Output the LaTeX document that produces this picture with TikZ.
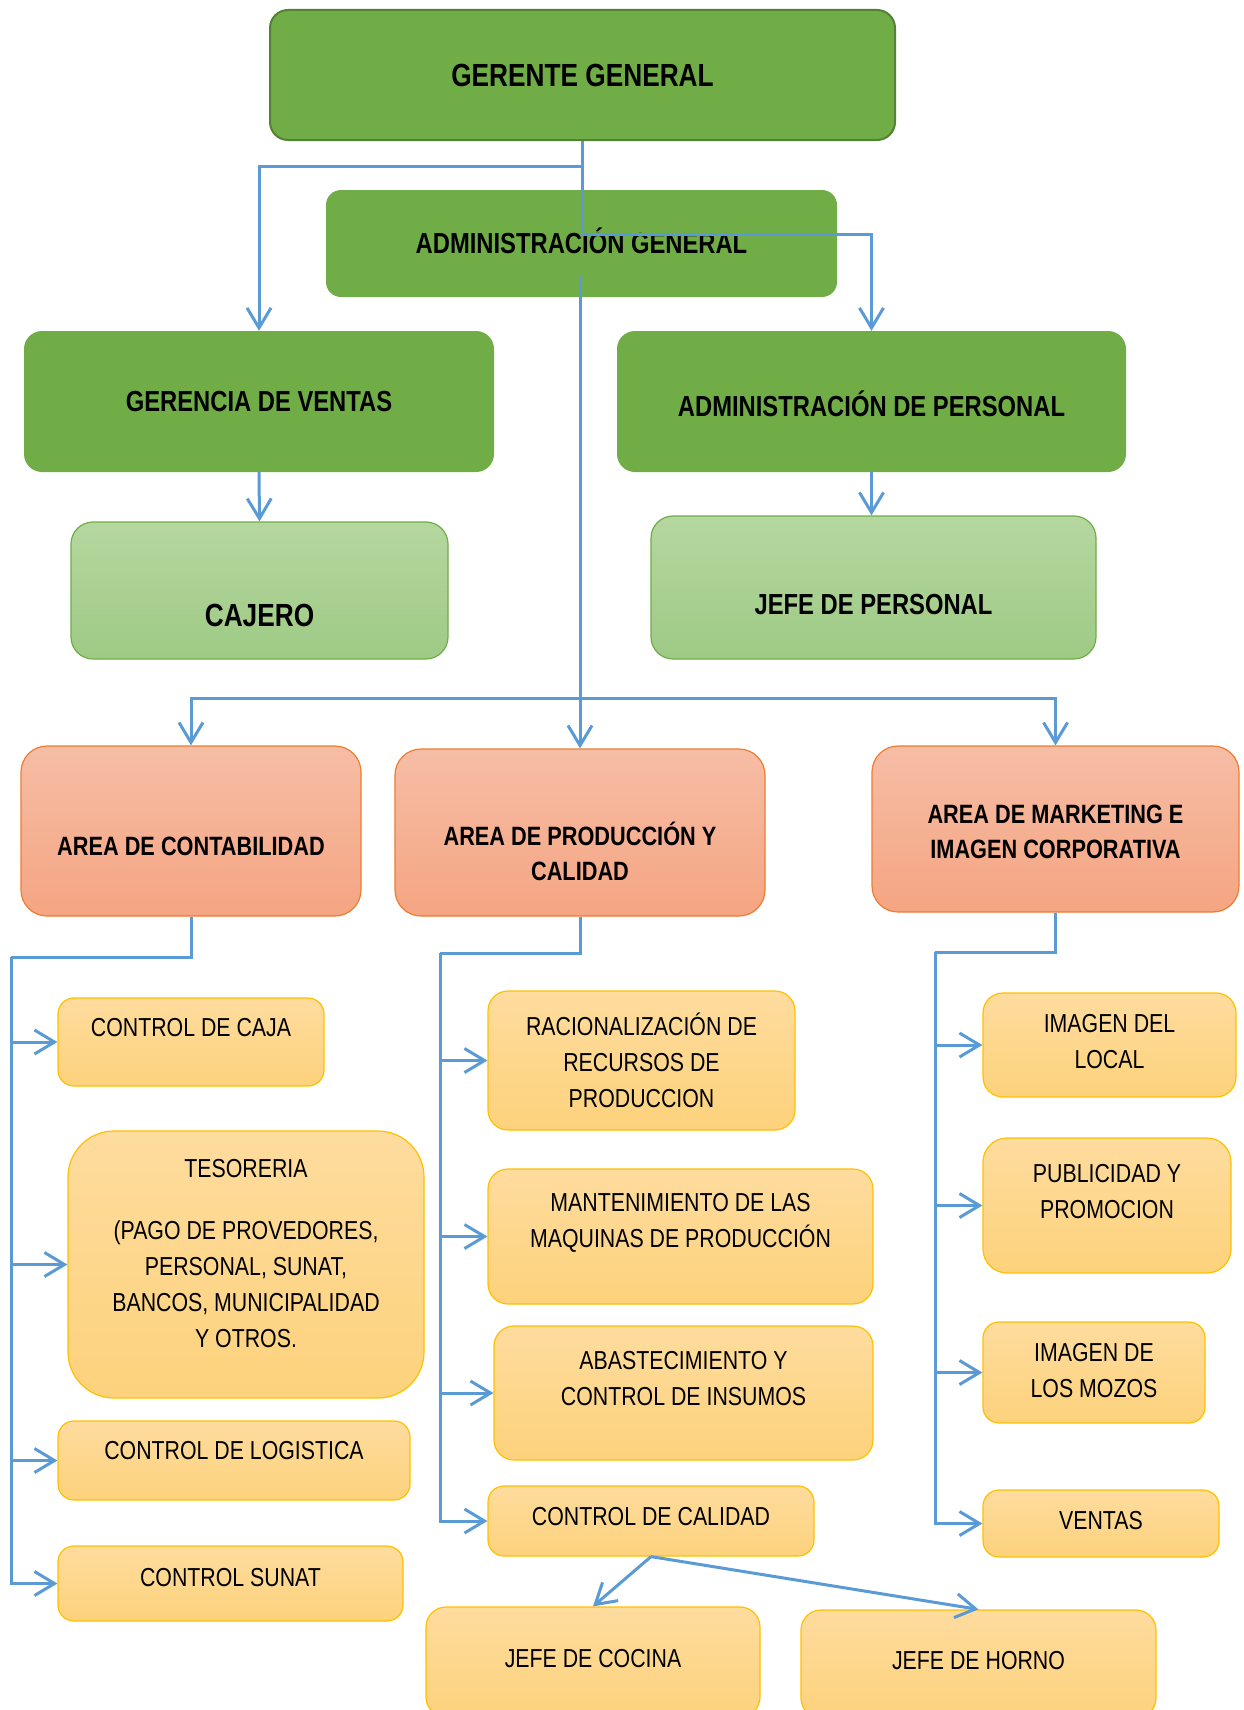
\documentclass[tikz,border=0pt]{standalone}
\usepackage{fontspec}
\setmainfont{Liberation Sans}[FakeStretch=0.82]
\usetikzlibrary{arrows.meta}
\definecolor{verde}{HTML}{70AD47}
\definecolor{verdeosc}{HTML}{548235}
\definecolor{verdeA}{HTML}{B5D7A0}
\definecolor{verdeB}{HTML}{9ECA85}
\definecolor{naranja}{HTML}{ED7D31}
\definecolor{naranjaA}{HTML}{F6BDA5}
\definecolor{naranjaB}{HTML}{F5A582}
\definecolor{amarillo}{HTML}{FFC000}
\definecolor{amarilloA}{HTML}{FEDC9E}
\definecolor{amarilloB}{HTML}{FDD27C}
\definecolor{azul}{HTML}{5B9BD5}
\begin{document}
\begin{tikzpicture}[x=1pt,y=-1pt,
  conn/.style={draw=azul,line width=3pt},
  >={Straight Barb[length=20pt,width=24pt]},
  gbox/.style={fill=verde,rounded corners=18pt},
  lbox/.style={draw=verde,line width=1.2pt,top color=verdeA,bottom color=verdeB,rounded corners=22pt},
  obox/.style={draw=naranja,line width=1.2pt,top color=naranjaA,bottom color=naranjaB,rounded corners=26pt},
  ybox/.style={draw=amarillo,line width=1.2pt,top color=amarilloA,bottom color=amarilloB,rounded corners=#1},
  ybox/.default=16pt,
  tg/.style={font=\bfseries\fontsize{29}{35}\selectfont,align=center},
  ta/.style={font=\bfseries\fontsize{26.5}{35}\selectfont,align=center},
  tr/.style={font=\fontsize{26}{36}\selectfont,align=center}]
\useasboundingbox (0,0) rectangle (1244,1710);
\node[gbox,draw=verdeosc,line width=2pt,minimum width=625,minimum height=130,
  label={[font=\bfseries\fontsize{32}{38}\selectfont]center:GERENTE GENERAL}] (gerente) at (582.5,75) {};
\node[gbox,rounded corners=15pt,minimum width=511,minimum height=107,
  label={[tg,yshift=3pt]center:ADMINISTRACIÓN GENERAL}] (admin) at (581.5,243.5) {};
\node[gbox,minimum width=470,minimum height=141,
  label={[tg]center:GERENCIA DE VENTAS}] (ventas) at (259,401.5) {};
\node[gbox,minimum width=509,minimum height=141,
  label={[tg,yshift=-2pt]center:ADMINISTRACIÓN DE PERSONAL}] (personal) at (871.5,401.5) {};
\node[lbox,minimum width=377,minimum height=137,
  label={[tg,font=\bfseries\fontsize{32}{38}\selectfont,yshift=-25pt]center:CAJERO}] (cajero) at (259.5,590.5) {};
\node[lbox,minimum width=445,minimum height=143,
  label={[tg,yshift=-17pt]center:JEFE DE PERSONAL}] (jefep) at (873.5,587.5) {};
\node[obox,minimum width=340,minimum height=170,
  label={[ta,yshift=-15pt]center:AREA DE CONTABILIDAD}] (contab) at (191,831) {};
\node[obox,minimum width=370,minimum height=167,
  label={[ta,yshift=-19pt]center:{AREA DE PRODUCCIÓN Y\\CALIDAD}}] (prod) at (580,832.5) {};
\node[obox,minimum width=367,minimum height=166,
  label={[ta,yshift=-3pt]center:{AREA DE MARKETING E\\IMAGEN CORPORATIVA}}] (mkt) at (1055.5,829) {};
\node[ybox,minimum width=266,minimum height=88,
  label={[tr,yshift=14pt]center:CONTROL DE CAJA}] (caja) at (191,1042) {};
\node[ybox=46pt,minimum width=356,minimum height=267,
  label={[tr,yshift=11pt]center:{TESORERIA\\[26pt](PAGO DE PROVEDORES,\\PERSONAL, SUNAT,\\BANCOS, MUNICIPALIDAD\\Y OTROS.}}] (tes) at (246,1264.5) {};
\node[ybox,minimum width=352,minimum height=79,
  label={[tr,yshift=10pt]center:CONTROL DE LOGISTICA}] (logis) at (234,1460.5) {};
\node[ybox,minimum width=345,minimum height=75,
  label={[tr,yshift=6pt]center:CONTROL SUNAT}] (sunat) at (230.5,1583.5) {};
\node[ybox=20pt,minimum width=307,minimum height=139,
  label={[tr]center:{RACIONALIZACIÓN DE\\RECURSOS DE\\PRODUCCION}}] (raci) at (641.5,1060.5) {};
\node[ybox=20pt,minimum width=385,minimum height=135,
  label={[tr,yshift=14pt]center:{MANTENIMIENTO DE LAS\\MAQUINAS DE PRODUCCIÓN}}] (mant) at (680.5,1236.5) {};
\node[ybox=20pt,minimum width=379,minimum height=134,
  label={[tr,yshift=14pt]center:{ABASTECIMIENTO Y\\CONTROL DE INSUMOS}}] (abast) at (683.5,1393) {};
\node[ybox,minimum width=326,minimum height=70,
  label={[tr,yshift=4pt]center:CONTROL DE CALIDAD}] (cal) at (651,1521) {};
\node[ybox=20pt,minimum width=334,minimum height=110,
  label={[tr,yshift=3pt]center:JEFE DE COCINA}] (cocina) at (593,1662) {};
\node[ybox=20pt,minimum width=355,minimum height=108,
  label={[tr,yshift=3pt]center:JEFE DE HORNO}] (horno) at (978.5,1664) {};
\node[ybox=20pt,minimum width=253,minimum height=104,
  label={[tr,yshift=3pt]center:{IMAGEN DEL\\LOCAL}}] (local) at (1109.5,1045) {};
\node[ybox=24pt,minimum width=248,minimum height=135,
  label={[tr,yshift=14pt]center:{PUBLICIDAD Y\\PROMOCION}}] (pub) at (1107,1205.5) {};
\node[ybox,minimum width=222,minimum height=101,
  label={[tr,yshift=2pt]center:{IMAGEN DE\\LOS MOZOS}}] (mozos) at (1094,1372.5) {};
\node[ybox,minimum width=236,minimum height=67,
  label={[tr,yshift=3pt]center:VENTAS}] (vtas) at (1101,1523.5) {};
\coordinate (a0) at (580,276);
\coordinate (bus) at (580,698);
\coordinate (lc) at (11,957);
\coordinate (pc) at (440,953);
\coordinate (mc) at (935,952);
\draw[conn,->] (gerente.south) -- ++(0,25) -| (ventas.north);
\draw[conn,->] (gerente.south) -- ++(0,93) -| (personal.north);
\draw[conn,->] (ventas.south) -- (cajero.north);
\draw[conn,->] (personal.south) -- (personal.south |- jefep.north);
\draw[conn,->] (a0) -- (prod.north);
\draw[conn,->] (bus) -| (contab.north);
\draw[conn,->] (bus) -| (mkt.north);
\draw[conn] (contab.south) |- (lc);
\draw[conn,->] (lc) |- (caja.west);
\draw[conn,->] (lc) |- (tes.west);
\draw[conn,->] (lc) |- (logis.west);
\draw[conn,->] (lc) |- (sunat.west);
\draw[conn] (prod.south) |- (pc);
\draw[conn,->] (pc) |- (raci.west);
\draw[conn,->] (pc) |- (mant.west);
\draw[conn,->] (pc) |- (abast.west);
\draw[conn,->] (pc) |- (cal.west);
\draw[conn] (mkt.south) |- (mc);
\draw[conn,->] (mc) |- (local.west);
\draw[conn,->] (mc) |- (pub.west);
\draw[conn,->] (mc) |- (mozos.west);
\draw[conn,->] (mc) |- (vtas.west);
\draw[conn,->] (cal.south) -- (cocina.north);
\draw[conn,->] (cal.south) -- (horno.north);
\end{tikzpicture}
\end{document}
